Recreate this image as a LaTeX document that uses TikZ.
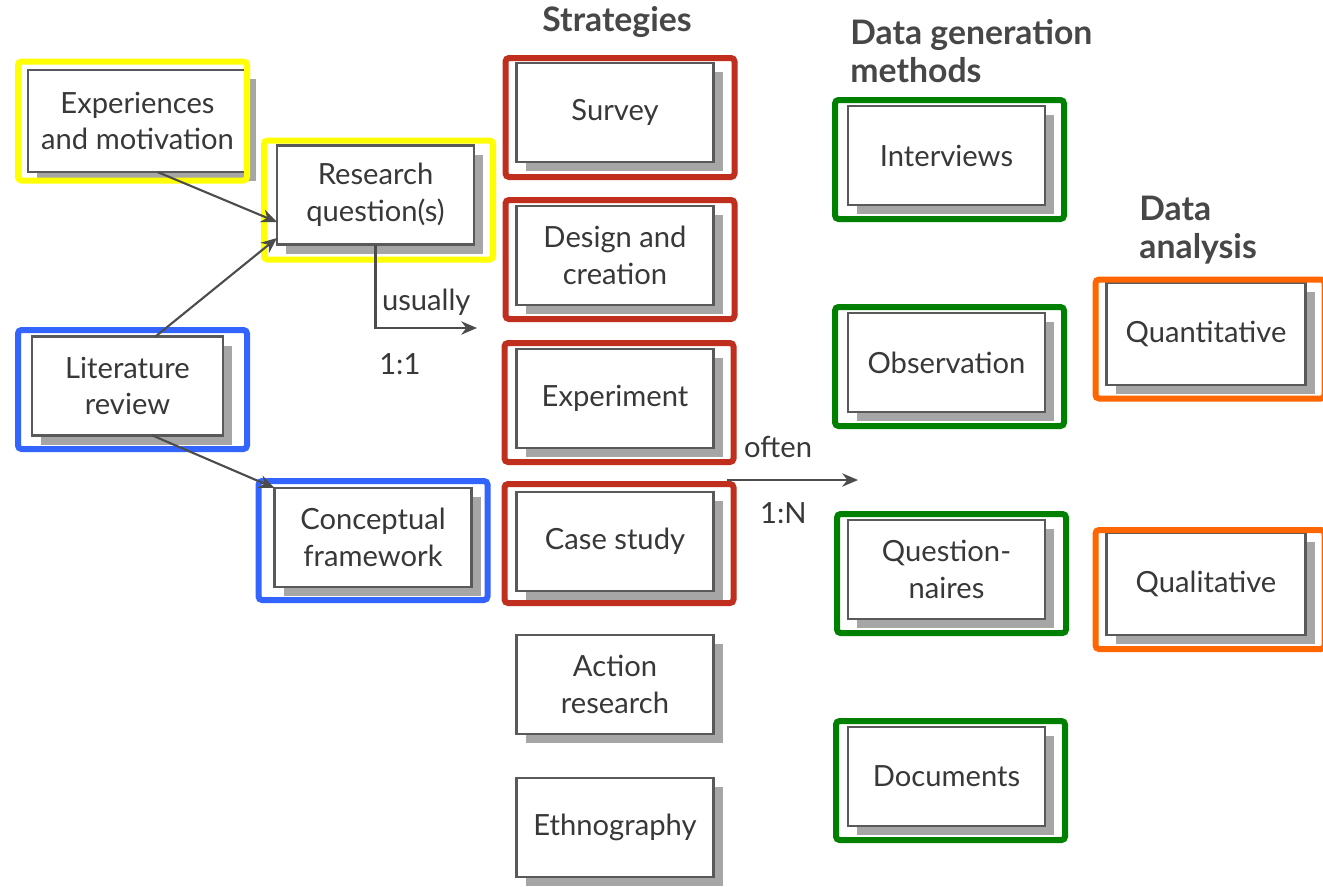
\documentclass[tikz,border=0pt]{standalone}
\usepackage{fontspec}
\setmainfont{Lato}
\usetikzlibrary{arrows.meta, positioning, shadows}

\definecolor{hlyellow}{RGB}{255,255,0}
\definecolor{hlblue}{RGB}{52,100,255}
\definecolor{hlred}{RGB}{192,46,30}
\definecolor{hlgreen}{RGB}{0,128,0}
\definecolor{hlorange}{RGB}{255,102,0}

\begin{document}
\begin{tikzpicture}[
    node distance=0.44cm and 1.5cm,
    every node/.style={font=\fontsize{8.3}{10.5}\selectfont, text=black!78},
    box/.style={rectangle, draw=black!65, fill=white, line width=0.6pt, minimum width=1.97cm, minimum height=0.99cm, align=center, outer sep=0pt, drop shadow={shadow xshift=0.09cm, shadow yshift=-0.09cm, fill=black!35, opacity=1}},
    hlframe/.style={rectangle, draw=#1, line width=0.06cm, rounded corners=1pt, minimum width=2.29cm, minimum height=1.19cm, inner sep=0pt},
    heading/.style={font=\fontsize{9.6}{11}\selectfont\bfseries, text=black!72, align=left},
    arrow/.style={-{Stealth[length=4.5pt, width=3.8pt]}, draw=black!70, line width=0.6pt}
]
\path[use as bounding box, fill=white] (0,0) rectangle (13.23,-8.86);

% Nodes
\node[box, minimum width=2.19cm, minimum height=1.02cm] (exper) at (1.375,-1.21) {Experiences\\and motivation};
\node[box] (resq) at (3.755,-1.95) {Research\\question(s)};
\node[box, minimum width=1.91cm] (litrev) at (1.275,-3.86) {Literature\\review};
\node[box] (concept) at (3.73,-5.375) {Conceptual\\framework};

\node[heading] (strathead) at (6.17,-0.22) {Strategies};
\node[box] (survey) at (6.15,-1.125) {Survey};
\node[box, below=of survey] (design) {Design and\\creation};
\node[box, below=of design] (experiment) {Experiment};
\node[box, below=of experiment] (casestudy) {Case study};
\node[box, below=of casestudy] (action) {Action\\research};
\node[box, below=of action] (ethno) {Ethnography};

\node[heading, anchor=west] (genhead) at (8.38,-0.51) {Data generation\\methods};
\node[box] (interviews) at (9.465,-1.555) {Interviews};
\node[box, below=1.08cm of interviews] (observation) {Observation};
\node[box, below=1.08cm of observation] (questionnaires) {Question-\\naires};
\node[box, below=1.08cm of questionnaires] (documents) {Documents};

\node[heading, anchor=west] (anahead) at (11.27,-2.30) {Data\\analysis};
\node[box, minimum width=1.99cm, minimum height=1.02cm] (quant) at (12.06,-3.34) {Quantitative};
\node[box, minimum width=1.99cm, minimum height=1.02cm, below=1.48cm of quant] (qual) {Qualitative};

% Highlight frames
\node[hlframe=hlyellow] (exper-hl) at ([xshift=-0.05cm]exper.center) {};
\node[hlframe=hlyellow] (resq-hl) at ([xshift=0.03cm, yshift=-0.05cm]resq.center) {};
\node[hlframe=hlblue] (litrev-hl) at ([xshift=0.05cm, yshift=-0.035cm]litrev.center) {};
\node[hlframe=hlblue] (concept-hl) at ([yshift=-0.03cm]concept.center) {};
\node[hlframe=hlred] (survey-hl) at ([xshift=0.05cm, yshift=-0.05cm]survey.center) {};
\node[hlframe=hlred] (design-hl) at ([xshift=0.05cm, yshift=-0.04cm]design.center) {};
\node[hlframe=hlred] (experiment-hl) at ([xshift=0.04cm, yshift=-0.04cm]experiment.center) {};
\node[hlframe=hlred] (casestudy-hl) at ([xshift=0.04cm, yshift=-0.02cm]casestudy.center) {};
\node[hlframe=hlgreen] (interviews-hl) at ([xshift=0.03cm, yshift=-0.04cm]interviews.center) {};
\node[hlframe=hlgreen] (observation-hl) at ([xshift=0.03cm, yshift=-0.04cm]observation.center) {};
\node[hlframe=hlgreen] (questionnaires-hl) at ([xshift=0.05cm, yshift=-0.04cm]questionnaires.center) {};
\node[hlframe=hlgreen] (documents-hl) at ([xshift=0.04cm, yshift=-0.04cm]documents.center) {};
\node[hlframe=hlorange] (quant-hl) at ([xshift=0.04cm, yshift=-0.05cm]quant.center) {};
\node[hlframe=hlorange] (qual-hl) at ([xshift=0.04cm, yshift=-0.055cm]qual.center) {};

% Paths
\coordinate (usualend) at (4.77,-3.28);
\coordinate (oftenstart) at (7.27,-4.80);
\coordinate (oftenend) at (8.58,-4.80);

\draw[arrow] ([xshift=0.2cm]exper.south) -- ([yshift=-0.27cm]resq.west);
\draw[arrow] ([xshift=0.28cm]litrev.north) -- ([yshift=-0.43cm]resq.west);
\draw[arrow] ([xshift=0.25cm]litrev.south) -- (concept.north west);
\draw[arrow] (resq.south) |- node[pos=0.75, above] {usually} node[pos=0.62, below=0.13cm] {1:1} (usualend);
\draw[arrow] (oftenstart) -- node[pos=0.39, above=0.1cm] {often} node[pos=0.43, below=0.1cm] {1:N} (oftenend);

\end{tikzpicture}
\end{document}
